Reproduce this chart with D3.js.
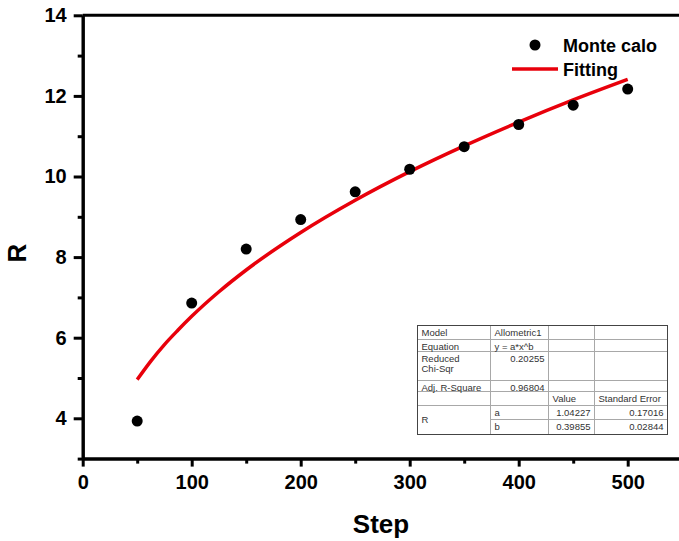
<!DOCTYPE html>
<html>
<head>
<meta charset="utf-8">
<script src="https://cdn.jsdelivr.net/npm/d3@7"></script>
<style>
  body { margin: 0; background: #fff; }
  svg { display: block; font-family: "Liberation Sans", Arial, sans-serif; }
  .axis path, .axis line { stroke: #000; stroke-width: 3; }
  .axis text { font-size: 20px; font-weight: bold; fill: #000; }
  .tbl text { font-size: 9.5px; fill: #333; }
</style>
</head>
<body>
<div id="chart"></div>
<script>
// Monte Carlo points (step, R)
const steps = [50, 100, 150, 200, 250, 300, 350, 400, 450, 500];
const monteCarlo = [3.93, 6.86, 8.20, 8.93, 9.62, 10.18, 10.74, 11.29, 11.77, 12.17];

// fitted curve
const fitSteps = [50, 62.5, 75, 87.5, 100, 125, 150, 200, 250, 300, 350, 400, 450, 500];
const fitValues = [4.96, 5.42, 5.83, 6.19, 6.53, 7.14, 7.68, 8.61, 9.41, 10.12, 10.76, 11.35, 11.90, 12.41];

// ticks
const xMajor = [0, 100, 200, 300, 400, 500];
const xMinor = [50, 150, 250, 350, 450, 550];
const yMajor = [4, 6, 8, 10, 12, 14];
const yMinor = [3, 5, 7, 9, 11, 13];

// fit result table
const tableRows = [
    ["Model", "Allometric1", "", ""],
    ["Equation", "y = a*x^b", "", ""],
    ["Reduced\nChi-Sqr", "0.20255", "", ""],
    ["Adj. R-Square", "0.96804", "", ""],
    ["", "", "Value", "Standard Error"],
    ["R", "a", "1.04227", "0.17016"],
    ["", "b", "0.39855", "0.02844"]
];

const W = 679, H = 541;

const svg = d3.select("#chart").append("svg")
    .attr("width", W)
    .attr("height", H);

const x = d3.scaleLinear().domain([0, 550]).range([82.7, 82.7 + 550 * 1.09]);
const y = d3.scaleLinear().domain([3, 14]).range([458.6, 15.3]);

// top frame line
svg.append("line")
    .attr("x1", x(0)).attr("x2", W + 5)
    .attr("y1", y(14)).attr("y2", y(14))
    .attr("stroke", "#000").attr("stroke-width", 3);

// x axis
svg.append("g")
    .attr("class", "axis")
    .attr("transform", "translate(0," + y(3) + ")")
    .call(d3.axisBottom(x).tickValues(xMajor).tickSize(8).tickSizeOuter(0).tickPadding(8));

svg.append("g")
    .attr("class", "axis")
    .attr("transform", "translate(0," + y(3) + ")")
    .call(d3.axisBottom(x).tickValues(xMinor).tickSize(5).tickSizeOuter(0).tickFormat(""));

// y axis
svg.append("g")
    .attr("class", "axis")
    .attr("transform", "translate(" + x(0) + ",0)")
    .call(d3.axisLeft(y).tickValues(yMajor).tickSize(9).tickSizeOuter(0).tickPadding(7));

svg.append("g")
    .attr("class", "axis")
    .attr("transform", "translate(" + x(0) + ",0)")
    .call(d3.axisLeft(y).tickValues(yMinor).tickSize(5).tickSizeOuter(0).tickFormat(""));

// axis titles
svg.append("text")
    .attr("x", 381)
    .attr("y", 533)
    .attr("text-anchor", "middle")
    .style("font-size", "26px")
    .style("font-weight", "bold")
    .text("Step");

svg.append("text")
    .attr("transform", "translate(26,253) rotate(-90)")
    .attr("text-anchor", "middle")
    .style("font-size", "26px")
    .style("font-weight", "bold")
    .text("R");

// fitting line
const line = d3.line()
    .curve(d3.curveMonotoneX)
    .x((d, i) => x(fitSteps[i]))
    .y(d => y(d));

svg.append("path")
    .datum(fitValues)
    .attr("fill", "none")
    .attr("stroke", "#e8000b")
    .attr("stroke-width", 3.5)
    .attr("d", line);

// points
svg.selectAll(".pt")
    .data(monteCarlo)
    .enter().append("circle")
    .attr("class", "pt")
    .attr("cx", (d, i) => x(steps[i]))
    .attr("cy", d => y(d))
    .attr("r", 5.5)
    .attr("fill", "#000");

// legend
svg.append("circle")
    .attr("cx", 535).attr("cy", 45).attr("r", 5.5).attr("fill", "#000");
svg.append("text")
    .attr("x", 563).attr("y", 51.5)
    .style("font-size", "18px").style("font-weight", "bold")
    .text("Monte calo");
svg.append("line")
    .attr("x1", 512).attr("x2", 558)
    .attr("y1", 69).attr("y2", 69)
    .attr("stroke", "#e8000b").attr("stroke-width", 3.5);
svg.append("text")
    .attr("x", 563).attr("y", 75.5)
    .style("font-size", "18px").style("font-weight", "bold")
    .text("Fitting");

// table
const colX = [417.5, 490.5, 548.5, 594.5, 667.5];
const rowY = [325.5, 339.5, 351.5, 380.5, 391.5, 405.5, 419.5, 434.5];
const rightAlign = (r, c) => (c === 1 && (r === 2 || r === 3)) || c >= 2 && r >= 5;

const tbl = svg.append("g").attr("class", "tbl");

tbl.append("rect")
    .attr("x", colX[0]).attr("y", rowY[0])
    .attr("width", colX[4] - colX[0]).attr("height", rowY[7] - rowY[0])
    .attr("fill", "#fff");

// horizontal grid lines
rowY.slice(1, -1).forEach((ry, i) => {
    tbl.append("line")
        .attr("x1", i === 5 ? colX[1] : colX[0]).attr("x2", colX[4])
        .attr("y1", ry).attr("y2", ry)
        .attr("stroke", "#a8a8a8");
});
// vertical grid lines
colX.slice(1, -1).forEach(cx => {
    tbl.append("line")
        .attr("x1", cx).attr("x2", cx)
        .attr("y1", rowY[0]).attr("y2", rowY[7])
        .attr("stroke", "#a8a8a8");
});

tbl.append("rect")
    .attr("x", colX[0]).attr("y", rowY[0])
    .attr("width", colX[4] - colX[0]).attr("height", rowY[7] - rowY[0])
    .attr("fill", "none")
    .attr("stroke", "#444");

tableRows.forEach((row, r) => {
    row.forEach((cell, c) => {
        if (!cell) return;
        const lines = cell.split("\n");
        let top = rowY[r];
        if (r === 5 && c === 0) top = (rowY[5] + rowY[7]) / 2 - 7;
        const t = tbl.append("text")
            .attr("text-anchor", rightAlign(r, c) ? "end" : "start");
        lines.forEach((ln, k) => {
            t.append("tspan")
                .attr("x", rightAlign(r, c) ? colX[c + 1] - 4 : colX[c] + 4)
                .attr("y", top + 10 + k * 10)
                .text(ln);
        });
    });
});
</script>
</body>
</html>
